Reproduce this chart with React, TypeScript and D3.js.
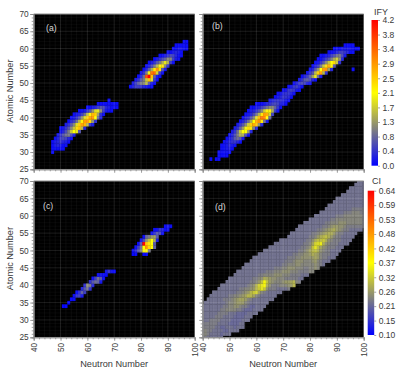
import * as d3 from "d3";
import { useEffect, useRef } from "react";

// each row: [atomic number, first neutron number, values from there on]
type Row = [number, number, number[]];

const rowsA: Row[] = [
  [30, 47, [0.1]],
  [31, 47, [0.1, 0.1, 0.1, 0.1, 0.1]],
  [32, 47, [0.1, 0.2, 0.3, 0.2, 0.1, 0.1]],
  [33, 47, [0.1, 0.2, 0.3, 0.4, 0.3, 0.2, 0.1]],
  [34, 48, [0.1, 0.3, 0.5, 0.6, 0.5, 0.3, 0.1]],
  [35, 49, [0.2, 0.4, 0.7, 0.9, 1.0, 0.6, 0.2]],
  [36, 50, [0.1, 0.3, 0.6, 1.0, 1.6, 2.1, 1.9, 0.7]],
  [37, 50, [0.1, 0.2, 0.4, 0.7, 1.1, 1.6, 2.4, 2.6, 1.5, 0.3]],
  [38, 52, [0.2, 0.4, 0.7, 1.1, 1.8, 2.5, 2.9, 2.7, 1.5, 0.5, 0.2]],
  [39, 53, [0.1, 0.3, 0.5, 0.9, 1.5, 2.2, 2.9, 3.0, 2.4, 1.2, 0.4]],
  [40, 54, [0.1, 0.2, 0.4, 0.7, 1.2, 1.8, 2.5, 2.9, 3.0, 2.1, 0.9, 0.3]],
  [41, 55, [0.1, 0.2, 0.3, 0.5, 0.9, 1.5, 2.2, 2.7, 2.5, 1.3, 0.4, 0.1]],
  [42, 57, [0.1, 0.1, 0.2, 0.4, 0.7, 1.2, 1.8, 1.9, 1.2, 0.5, 0.2, 0.1, 0.1]],
  [43, 60, [0.1, 0.1, 0.2, 0.3, 0.5, 0.7, 0.6, 0.3, 0.2, 0.1, 0.1, 0.1]],
  [44, 64, [0.1, 0.1, 0.1, 0.1, 0.1, 0.1, 0.1, 0.1]],
  [45, 68, [0.1]],
  [49, 76, [0.1, 0.3, 0.5, 0.5, 0.4, 0.3, 0.2, 0.1, 0.1]],
  [50, 77, [0.2, 0.5, 0.8, 1.0, 1.1, 1.5, 0.7, 0.2, 0.1]],
  [51, 78, [0.2, 0.4, 0.7, 1.0, 1.6, 2.6, 1.8, 0.5, 0.1]],
  [52, 79, [0.1, 0.3, 0.9, 3.6, 4.2, 2.6, 0.8, 0.2, 0.1]],
  [53, 80, [0.1, 0.4, 1.0, 2.0, 3.3, 3.3, 1.7, 0.5, 0.1]],
  [54, 81, [0.1, 0.3, 0.8, 1.4, 2.3, 3.0, 2.4, 0.7, 0.2]],
  [55, 82, [0.1, 0.3, 0.6, 1.0, 1.5, 2.2, 2.3, 1.1, 0.3]],
  [56, 83, [0.1, 0.2, 0.4, 0.7, 1.0, 1.4, 1.9, 1.4, 0.5, 0.1]],
  [57, 85, [0.1, 0.2, 0.4, 0.6, 0.8, 1.1, 1.1, 0.5, 0.2, 0.1]],
  [58, 87, [0.1, 0.1, 0.3, 0.4, 0.6, 0.5, 0.3, 0.1, 0.1]],
  [59, 90, [0.1, 0.1, 0.2, 0.3, 0.2, 0.1]],
  [60, 92, [0.1, 0.1, 0.2, 0.2, 0.1, 0.1]],
  [61, 93, [0.1, 0.1, 0.1, 0.1, 0.1]],
  [62, 96, [0.1, 0.1]],
];

const rowsB: Row[] = [
  [28, 43, [0.1]],
  [28, 45, [0.1, 0.1]],
  [29, 46, [0.1, 0.1, 0.1, 0.1]],
  [30, 46, [0.1, 0.1, 0.1, 0.1, 0.1]],
  [31, 47, [0.1, 0.1, 0.2, 0.2, 0.1]],
  [32, 47, [0.1, 0.1, 0.2, 0.3, 0.2, 0.1]],
  [33, 48, [0.1, 0.2, 0.3, 0.4, 0.4, 0.3, 0.1]],
  [34, 49, [0.1, 0.2, 0.4, 0.7, 0.9, 0.7, 0.2]],
  [35, 50, [0.1, 0.3, 0.6, 1.0, 1.4, 1.4, 0.6, 0.1]],
  [36, 51, [0.2, 0.4, 0.9, 1.6, 2.1, 2.1, 1.3, 0.3]],
  [37, 52, [0.2, 0.4, 0.8, 1.3, 2.0, 2.4, 2.3, 1.1, 0.3]],
  [38, 53, [0.2, 0.4, 0.7, 1.1, 1.7, 2.5, 2.8, 2.6, 1.2, 0.3]],
  [39, 54, [0.1, 0.3, 0.5, 0.9, 1.4, 2.1, 2.8, 3.0, 2.3, 1.0, 0.2]],
  [40, 55, [0.1, 0.3, 0.4, 0.7, 1.1, 1.8, 2.7, 3.3, 3.1, 2.1, 0.8]],
  [41, 56, [0.1, 0.2, 0.3, 0.6, 0.9, 1.5, 2.3, 2.9, 2.8, 1.7, 0.5]],
  [42, 57, [0.1, 0.2, 0.3, 0.4, 0.7, 1.1, 1.7, 2.2, 2.2, 1.4, 0.5, 0.1]],
  [43, 58, [0.1, 0.1, 0.2, 0.3, 0.5, 0.7, 0.9, 1.1, 1.1, 0.8, 0.4, 0.1]],
  [44, 60, [0.1, 0.1, 0.1, 0.2, 0.3, 0.4, 0.5, 0.6, 0.5, 0.3, 0.2, 0.1]],
  [45, 65, [0.2, 0.3, 0.4, 0.4, 0.4, 0.3, 0.2, 0.1]],
  [46, 67, [0.1, 0.2, 0.3, 0.4, 0.4, 0.3, 0.1]],
  [47, 68, [0.1, 0.2, 0.3, 0.4, 0.4, 0.3, 0.1]],
  [48, 70, [0.1, 0.2, 0.4, 0.5, 0.4, 0.2, 0.1]],
  [49, 72, [0.1, 0.2, 0.4, 0.5, 0.3, 0.1]],
  [50, 74, [0.1, 0.3, 0.5, 0.6, 0.5, 0.3, 0.1]],
  [51, 76, [0.2, 0.4, 0.7, 0.8, 0.6, 0.3, 0.1]],
  [52, 77, [0.1, 0.3, 0.5, 0.8, 1.3, 1.9, 0.9, 0.2]],
  [53, 79, [0.2, 0.4, 0.7, 1.5, 2.5, 2.9, 1.5, 0.4]],
  [54, 80, [0.1, 0.3, 0.7, 1.2, 2.1, 2.9, 3.0, 1.3, 0.3]],
  [54, 96, [0.1]],
  [55, 81, [0.1, 0.3, 0.5, 1.0, 1.6, 2.4, 2.8, 2.2, 0.7]],
  [56, 82, [0.1, 0.2, 0.4, 0.7, 1.1, 1.6, 2.1, 2.4, 1.6, 0.4]],
  [57, 83, [0.1, 0.1, 0.3, 0.5, 0.7, 1.0, 1.4, 1.7, 1.2, 0.3]],
  [58, 84, [0.1, 0.1, 0.2, 0.3, 0.5, 0.7, 0.9, 1.0, 0.6, 0.2]],
  [59, 87, [0.1, 0.1, 0.2, 0.3, 0.5, 0.5, 0.4, 0.3, 0.1, 0.1]],
  [60, 89, [0.1, 0.1, 0.1, 0.2, 0.2, 0.2, 0.2, 0.1, 0.1, 0.1]],
  [61, 93, [0.1, 0.1, 0.1, 0.1]],
];

const rowsC: Row[] = [
  [34, 51, [0.03, 0.03]],
  [35, 53, [0.03]],
  [36, 54, [0.05, 0.1]],
  [37, 55, [0.1, 0.4, 0.5, 0.2]],
  [38, 56, [0.1, 0.4, 0.8, 0.5]],
  [39, 58, [0.3, 0.7, 0.9, 0.4]],
  [40, 59, [0.4, 1.1, 1.0, 0.3]],
  [41, 61, [0.4, 0.7, 0.9, 0.8, 0.2]],
  [42, 62, [0.1, 0.5, 0.9, 0.7, 0.1]],
  [43, 64, [0.1, 0.2, 0.1, 0.1]],
  [44, 67, [0.2, 0.4, 0.2, 0.05]],
  [49, 77, [0.05, 0.05]],
  [49, 81, [0.05, 0.05]],
  [50, 77, [0.1, 0.3, 0.7, 1.0, 2.0, 2.2, 1.0]],
  [51, 78, [0.1, 0.5, 0.9, 2.1, 3.0, 2.4, 2.1, 0.8]],
  [52, 79, [0.1, 0.7, 4.2, 2.6, 2.3, 2.1, 0.7]],
  [53, 80, [0.1, 0.6, 1.2, 1.6, 2.1, 1.4, 0.2]],
  [54, 81, [0.1, 0.8, 1.0, 1.2, 1.3, 0.7]],
  [55, 84, [0.1, 0.4, 0.7, 0.6, 0.1]],
  [56, 85, [0.1, 0.1, 0.4, 0.3, 0.1, 0.1]],
  [57, 89, [0.1, 0.2, 0.1]],
];

// CI values, in hundredths
const rowsD: Row[] = [
  [25, 40, [23, 23, 22, 22, 22, 22, 22, 22]],
  [26, 40, [24, 24, 23, 22, 22, 22, 22, 21, 22, 22, 22]],
  [27, 40, [23, 24, 23, 23, 22, 22, 22, 22, 21, 21, 22, 22, 22, 22]],
  [28, 40, [23, 23, 23, 23, 23, 22, 22, 21, 21, 22, 22, 22, 21, 22, 22, 22]],
  [29, 40, [22, 23, 23, 23, 23, 23, 22, 22, 22, 22, 21, 21, 21, 21, 22, 22]],
  [30, 40, [22, 22, 22, 23, 23, 23, 23, 22, 22, 22, 22, 21, 21, 21, 21, 22, 22, 22]],
  [31, 40, [22, 22, 22, 22, 22, 23, 23, 23, 22, 22, 22, 22, 21, 21, 21, 21, 22, 22, 22]],
  [32, 40, [22, 22, 22, 22, 22, 22, 23, 23, 23, 23, 22, 22, 22, 21, 21, 21, 21, 22, 22, 22, 22]],
  [33, 40, [22, 22, 22, 22, 22, 22, 22, 23, 23, 24, 24, 24, 24, 23, 23, 22, 21, 21, 21, 22, 22, 22, 22]],
  [34, 40, [22, 22, 22, 22, 22, 22, 22, 22, 23, 23, 24, 24, 25, 25, 24, 23, 23, 22, 21, 21, 22, 22, 22, 22]],
  [35, 41, [22, 22, 22, 22, 22, 22, 22, 22, 23, 24, 24, 25, 26, 26, 26, 24, 23, 22, 22, 22, 22, 22, 22, 22]],
  [36, 42, [22, 22, 22, 22, 22, 22, 23, 23, 23, 24, 25, 26, 27, 27, 26, 24, 23, 22, 22, 22, 22, 22, 22, 22, 22]],
  [37, 43, [22, 22, 22, 22, 22, 22, 22, 23, 23, 24, 24, 25, 26, 27, 29, 29, 27, 24, 23, 22, 22, 22, 22, 22, 22]],
  [38, 44, [22, 22, 22, 22, 22, 22, 22, 22, 22, 23, 23, 24, 25, 26, 29, 31, 32, 27, 24, 23, 22, 22, 22, 22, 22, 22]],
  [39, 46, [22, 22, 22, 22, 22, 22, 22, 22, 23, 23, 24, 24, 25, 26, 29, 31, 34, 31, 25, 23, 23, 23, 22, 22, 22, 22, 23]],
  [40, 47, [22, 22, 22, 22, 22, 22, 22, 22, 22, 22, 23, 24, 25, 28, 32, 34, 36, 28, 25, 23, 23, 23, 24, 24, 24, 25, 26, 29]],
  [41, 49, [22, 22, 22, 22, 22, 22, 22, 22, 22, 23, 23, 24, 26, 30, 36, 30, 26, 25, 24, 24, 24, 25, 26, 26, 27, 29, 24, 23]],
  [42, 50, [22, 22, 22, 22, 22, 22, 22, 22, 22, 23, 23, 24, 25, 28, 27, 26, 25, 25, 24, 24, 24, 23, 23, 23, 23, 23, 22, 22]],
  [43, 52, [22, 22, 22, 22, 22, 22, 22, 22, 22, 23, 23, 24, 24, 24, 24, 25, 25, 25, 24, 24, 24, 23, 23, 23, 23, 22, 22, 22]],
  [44, 53, [22, 22, 22, 22, 22, 22, 22, 22, 22, 22, 22, 23, 23, 23, 24, 24, 24, 25, 25, 25, 24, 24, 24, 23, 23, 23, 23, 24, 24]],
  [45, 55, [22, 22, 22, 22, 22, 22, 22, 22, 22, 22, 22, 22, 23, 23, 23, 24, 24, 25, 25, 25, 24, 24, 24, 23, 23, 24, 24, 25, 24]],
  [46, 56, [22, 22, 22, 22, 22, 22, 22, 22, 22, 22, 22, 22, 22, 22, 23, 23, 24, 24, 24, 25, 25, 24, 24, 24, 24, 24, 25, 24, 23, 22]],
  [47, 58, [22, 22, 22, 22, 22, 22, 22, 22, 22, 22, 22, 22, 22, 23, 23, 23, 24, 25, 25, 25, 24, 24, 24, 25, 26, 24, 23, 22, 22, 22]],
  [48, 59, [22, 22, 22, 22, 22, 22, 22, 22, 22, 22, 22, 22, 22, 23, 23, 23, 24, 24, 25, 25, 25, 25, 26, 27, 26, 24, 23, 23, 22, 22, 22]],
  [49, 61, [22, 22, 22, 22, 22, 22, 22, 22, 22, 22, 22, 22, 22, 23, 23, 24, 24, 25, 25, 26, 28, 27, 26, 24, 23, 23, 23, 22, 22, 22]],
  [50, 63, [22, 22, 22, 22, 22, 22, 22, 22, 22, 22, 22, 22, 22, 23, 23, 24, 25, 27, 29, 30, 28, 25, 24, 23, 23, 22, 22, 22, 22]],
  [51, 65, [22, 22, 22, 22, 22, 22, 22, 22, 22, 22, 22, 22, 23, 23, 24, 25, 30, 34, 30, 27, 25, 24, 23, 23, 23, 22, 22, 22]],
  [52, 67, [22, 22, 22, 22, 22, 22, 22, 22, 22, 22, 22, 23, 23, 24, 27, 32, 33, 35, 28, 25, 24, 23, 23, 23, 22, 22, 22, 22]],
  [53, 69, [22, 22, 22, 22, 22, 22, 22, 22, 22, 22, 23, 23, 25, 28, 30, 30, 31, 28, 25, 24, 23, 23, 23, 22, 22, 22, 22]],
  [54, 72, [22, 22, 22, 22, 22, 22, 22, 22, 23, 23, 24, 26, 28, 29, 30, 28, 26, 24, 23, 23, 22, 22, 22, 22, 22]],
  [55, 73, [22, 22, 22, 22, 22, 22, 22, 22, 23, 23, 24, 25, 26, 27, 28, 28, 26, 24, 23, 23, 22, 22, 22, 22, 22]],
  [56, 75, [22, 22, 22, 22, 22, 22, 22, 22, 23, 23, 24, 25, 26, 27, 28, 26, 25, 24, 23, 23, 22, 22, 22, 22, 22]],
  [57, 76, [22, 22, 22, 22, 22, 22, 22, 22, 22, 23, 23, 24, 25, 26, 26, 25, 25, 24, 23, 23, 23, 23, 23, 23, 23]],
  [58, 78, [22, 22, 22, 22, 22, 22, 22, 22, 23, 23, 24, 24, 24, 25, 25, 25, 24, 24, 24, 24, 24, 24, 23]],
  [59, 80, [22, 22, 22, 22, 22, 22, 22, 22, 23, 23, 24, 24, 24, 24, 24, 24, 24, 24, 24, 24, 23]],
  [60, 82, [22, 22, 22, 22, 22, 22, 22, 22, 23, 23, 23, 24, 24, 24, 24, 24, 24, 24, 23]],
  [61, 84, [22, 22, 22, 22, 22, 22, 22, 22, 22, 23, 23, 23, 24, 24, 24, 23, 23]],
  [62, 86, [22, 22, 22, 22, 22, 22, 22, 22, 22, 22, 23, 23, 23, 23, 23]],
  [63, 87, [22, 22, 22, 22, 22, 22, 22, 22, 22, 22, 22, 22, 22, 22]],
  [64, 89, [22, 22, 22, 22, 22, 22, 22, 22, 22, 22, 22, 22]],
  [65, 90, [22, 22, 22, 22, 22, 22, 22, 22, 22, 22, 22]],
  [66, 92, [22, 22, 22, 22, 22, 22, 22, 22, 22]],
  [67, 94, [22, 22, 22, 22, 22, 22, 22]],
  [68, 95, [22, 22, 22, 22, 22, 22]],
  [69, 97, [22, 22, 22, 22]],
  [70, 98, [22, 22, 22]],
];

const xTicks = [40, 50, 60, 70, 80, 90, 100];
const yTicks = [25, 30, 35, 40, 45, 50, 55, 60, 65, 70];
const ifyLabels = ["0.0", "0.4", "0.8", "1.3", "1.7", "2.1", "2.5", "2.9", "3.4", "3.8", "4.2"];
const ciLabels = ["0.10", "0.15", "0.21", "0.26", "0.32", "0.37", "0.42", "0.48", "0.53", "0.59", "0.64"];

const FONT = "'Liberation Sans', Arial, sans-serif";
const TEXT = "#3a3a3a";
const AXIS = "#8c8c8c";

const ifyColor = d3.scaleLinear<string>().domain([0, 2.1, 4.2]).range(["#0000ff", "#ffff00", "#ff0000"]);
const ciColor = d3.scaleLinear<string>().domain([10, 37, 64]).range(["#0000ff", "#ffff00", "#ff0000"]);

const panels = [
  { id: "a", label: "(a)", rows: rowsA, color: ifyColor, left: 33.7, top: 14, bottom: 169.3, labelX: 46, labelY: 31, yLabels: true, xLabels: false },
  { id: "b", label: "(b)", rows: rowsB, color: ifyColor, left: 202.7, top: 14, bottom: 169.3, labelX: 212, labelY: 29, yLabels: false, xLabels: false },
  { id: "c", label: "(c)", rows: rowsC, color: ifyColor, left: 33.7, top: 181, bottom: 337.3, labelX: 43, labelY: 209, yLabels: true, xLabels: true },
  { id: "d", label: "(d)", rows: rowsD, color: ciColor, left: 202.7, top: 181, bottom: 337.3, labelX: 215, labelY: 210, yLabels: false, xLabels: true },
];
const panelWidth = 161;

const bars = [
  { id: "ify", title: "IFY", labels: ifyLabels, color: ifyColor, domain: [0, 4.2], x: 371.5, top: 20, bottom: 165.7, titleX: 374, titleY: 15 },
  { id: "ci", title: "CI", labels: ciLabels, color: ciColor, domain: [10, 64], x: 367.7, top: 190.7, bottom: 335, titleX: 372, titleY: 184 },
];
const barWidth = 6.5;

export default function App() {
  const ref = useRef<SVGSVGElement>(null);

  useEffect(() => {
    const svg = d3.select(ref.current);
    svg.selectAll("*").remove();
    const defs = svg.append("defs");

    panels.forEach((p) => {
      const x = d3.scaleLinear().domain([40, 100]).range([p.left, p.left + panelWidth]);
      const y = d3.scaleLinear().domain([25, 70]).range([p.bottom, p.top]);
      const cellW = x(41) - x(40);
      const cellH = y(25) - y(26);

      defs
        .append("clipPath")
        .attr("id", `clip_${p.id}`)
        .append("rect")
        .attr("x", p.left)
        .attr("y", p.top)
        .attr("width", panelWidth)
        .attr("height", p.bottom - p.top);

      const g = svg.append("g");
      g.append("rect")
        .attr("x", p.left)
        .attr("y", p.top)
        .attr("width", panelWidth)
        .attr("height", p.bottom - p.top)
        .attr("fill", "#000");

      const cells = p.rows.flatMap(([z, start, values]) =>
        values.map((v, i) => ({ z, n: start + i, v }))
      );

      const inner = g.append("g").attr("clip-path", `url(#clip_${p.id})`);
      inner
        .selectAll("rect")
        .data(cells)
        .join("rect")
        .attr("x", (d) => x(d.n) - cellW / 2)
        .attr("y", (d) => y(d.z) - cellH / 2)
        .attr("width", cellW + 0.3)
        .attr("height", cellH + 0.3)
        .attr("fill", (d) => p.color(d.v));

      // faint grid on top of the cells
      const xGrid = d3.range(40, 101, 2);
      const yGrid = d3.range(25, 71, 1);
      inner
        .selectAll("line.gx")
        .data(xGrid)
        .join("line")
        .attr("class", "gx")
        .attr("x1", (d) => x(d))
        .attr("x2", (d) => x(d))
        .attr("y1", p.top)
        .attr("y2", p.bottom)
        .attr("stroke", "#fff")
        .attr("stroke-width", 0.6)
        .attr("stroke-opacity", (d) => (d % 10 === 0 ? 0.2 : 0.08));
      inner
        .selectAll("line.gy")
        .data(yGrid)
        .join("line")
        .attr("class", "gy")
        .attr("x1", p.left)
        .attr("x2", p.left + panelWidth)
        .attr("y1", (d) => y(d))
        .attr("y2", (d) => y(d))
        .attr("stroke", "#fff")
        .attr("stroke-width", 0.6)
        .attr("stroke-opacity", (d) => (d % 5 === 0 ? 0.18 : 0.06));

      g.append("line")
        .attr("x1", p.left)
        .attr("x2", p.left + panelWidth)
        .attr("y1", p.top)
        .attr("y2", p.top)
        .attr("stroke", AXIS);

      // minor ticks first, then the labelled ones
      const leftMinor = g.append("g").attr("transform", `translate(${p.left},0)`);
      leftMinor.call(d3.axisLeft(y).tickValues(yGrid).tickSize(2).tickFormat(() => ""));
      const left = g.append("g").attr("transform", `translate(${p.left},0)`);
      left.call(
        d3.axisLeft(y).tickValues(yTicks).tickSize(3.5).tickPadding(1.5)
          .tickFormat((d) => (p.yLabels ? String(d) : ""))
      );

      const bottomMinor = g.append("g").attr("transform", `translate(0,${p.bottom})`);
      bottomMinor.call(d3.axisBottom(x).tickValues(xGrid).tickSize(2).tickFormat(() => ""));
      const bottom = g.append("g").attr("transform", `translate(0,${p.bottom})`);
      bottom.call(
        d3.axisBottom(x).tickValues(xTicks).tickSize(3.5)
          .tickFormat((d) => (p.xLabels ? String(d) : ""))
      );
      bottom
        .selectAll("text")
        .attr("transform", "rotate(-90)")
        .attr("text-anchor", "end")
        .attr("x", -5.5)
        .attr("y", 0)
        .attr("dy", "0.35em");

      [leftMinor, left, bottomMinor, bottom].forEach((a) => {
        a.select(".domain").attr("stroke", AXIS).attr("stroke-width", 0.8);
        a.selectAll("line").attr("stroke", AXIS).attr("stroke-width", 0.8);
        a.selectAll("text").attr("fill", TEXT).style("font-family", FONT).style("font-size", "8.3px");
      });

      g.append("text")
        .attr("x", p.labelX)
        .attr("y", p.labelY)
        .attr("fill", "#d8d8d8")
        .style("font-family", FONT)
        .style("font-size", "8.7px")
        .text(p.label);

      if (p.yLabels) {
        g.append("text")
          .attr("transform", `translate(13,${(p.top + p.bottom) / 2 - 0.5}) rotate(-90)`)
          .attr("text-anchor", "middle")
          .attr("fill", TEXT)
          .style("font-family", FONT)
          .style("font-size", "9.2px")
          .text("Atomic Number");
      }
      if (p.xLabels) {
        g.append("text")
          .attr("x", p.left + panelWidth / 2)
          .attr("y", 366.5)
          .attr("text-anchor", "middle")
          .attr("fill", TEXT)
          .style("font-family", FONT)
          .style("font-size", "9.2px")
          .text("Neutron Number");
      }
    });

    bars.forEach((b) => {
      const grad = defs
        .append("linearGradient")
        .attr("id", `grad_${b.id}`)
        .attr("x1", 0)
        .attr("x2", 0)
        .attr("y1", 1)
        .attr("y2", 0);
      const pos = d3.scaleLinear().domain(b.domain).range([0, 1]);
      b.color.domain().forEach((v) => {
        grad.append("stop").attr("offset", pos(v)).attr("stop-color", b.color(v));
      });

      const g = svg.append("g");
      g.append("rect")
        .attr("x", b.x)
        .attr("y", b.top)
        .attr("width", barWidth)
        .attr("height", b.bottom - b.top)
        .attr("fill", `url(#grad_${b.id})`);

      const scale = d3.scalePoint().domain(b.labels).range([b.bottom, b.top]);
      const axis = g.append("g").attr("transform", `translate(${b.x + barWidth},0)`);
      axis.call(d3.axisRight(scale).tickSize(2).tickPadding(2.5));
      axis.select(".domain").remove();
      axis.selectAll("line").attr("stroke", AXIS).attr("stroke-width", 0.8);
      axis.selectAll("text").attr("fill", TEXT).style("font-family", FONT).style("font-size", "8.5px");

      g.append("text")
        .attr("x", b.titleX)
        .attr("y", b.titleY)
        .attr("fill", TEXT)
        .style("font-family", FONT)
        .style("font-size", "9px")
        .text(b.title);
    });
  }, []);

  return (
    <svg
      ref={ref}
      width={407}
      height={375}
      style={{ position: "absolute", left: 0, top: 0, background: "#fff" }}
    />
  );
}
